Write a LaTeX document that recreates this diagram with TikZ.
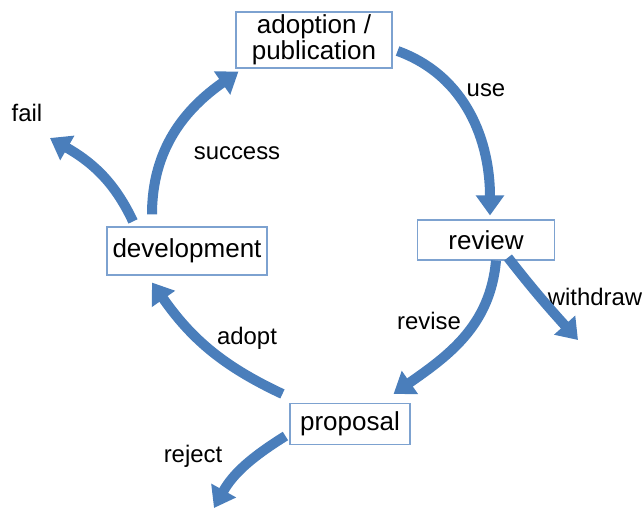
\documentclass[tikz,border=0pt]{standalone}
\usepackage{fontspec}
\setmainfont{Liberation Sans}
\usepackage{xcolor}
\usetikzlibrary{arrows.meta,calc}

\definecolor{flowblue}{RGB}{74,126,187}
\definecolor{boxblue}{RGB}{125,162,208}

\begin{document}
\begin{tikzpicture}[
    x=0.025cm, y=-0.025cm,
    stage/.style={rectangle, draw=boxblue, line width=0.8pt, fill=white, align=center, inner sep=0pt, font=\fontsize{18.5}{15.5}\selectfont},
    lbl/.style={font=\fontsize{17}{20}\selectfont},
    flow/.style={flowblue, line width=0.25cm, -{Triangle[length=0.5cm, width=0.68cm]}}
]

% Frame
\useasboundingbox (0,0) rectangle (644,515);

% Stages
\node[stage, minimum width=3.9cm, minimum height=1.4cm] (pub) at (314,40) {adoption /\\publication};
\node[stage, minimum width=3.425cm, minimum height=1cm] (review) at (486,240) {review};
\node[stage, minimum width=3cm, minimum height=1.025cm] (prop) at (350,424) {proposal};
\node[stage, minimum width=4cm, minimum height=1.2cm] (dev) at (187,251) {development};

% Loose ends
\coordinate (failend) at (50,138);
\coordinate (withdrawend) at (578,340);
\coordinate (rejectend) at (214,508);

% Labels
\node[lbl] (use) at (486,90) {use};
\node[lbl] (success) at (237,153) {success};
\node[lbl] (fail) at (27,113) {fail};
\node[lbl] (withdraw) at (595,297) {withdraw};
\node[lbl] (revise) at (429,321) {revise};
\node[lbl] (adopt) at (247,338) {adopt};
\node[lbl] (reject) at (193,456) {reject};

% Arrows
\draw[flow] ($(pub.east)+(5,11)$) to[out=-20, in=90] ($(review.north)+(4,-4)$);
\draw[flow] ($(review.south)+(10,0)$) to[out=-95, in=35] ($(prop.north east)+(-17,-9)$);
\draw[flow] ($(review.south)+(22,-3)$) to[out=-52, in=132] (withdrawend);
\draw[flow] ($(prop.west)+(-4,12)$) to[out=212, in=61] (rejectend);
\draw[flow] ($(prop.north west)+(-7,-9)$) to[out=155, in=-55] ($(dev.south)+(-35,7)$);
\draw[flow] ($(dev.north)+(-54,-5)$) to[out=115, in=-30] (failend);
\draw[flow] ($(dev.north)+(-35,-12)$) to[out=90, in=-145] ($(pub.south west)+(3,3)$);

\end{tikzpicture}
\end{document}
